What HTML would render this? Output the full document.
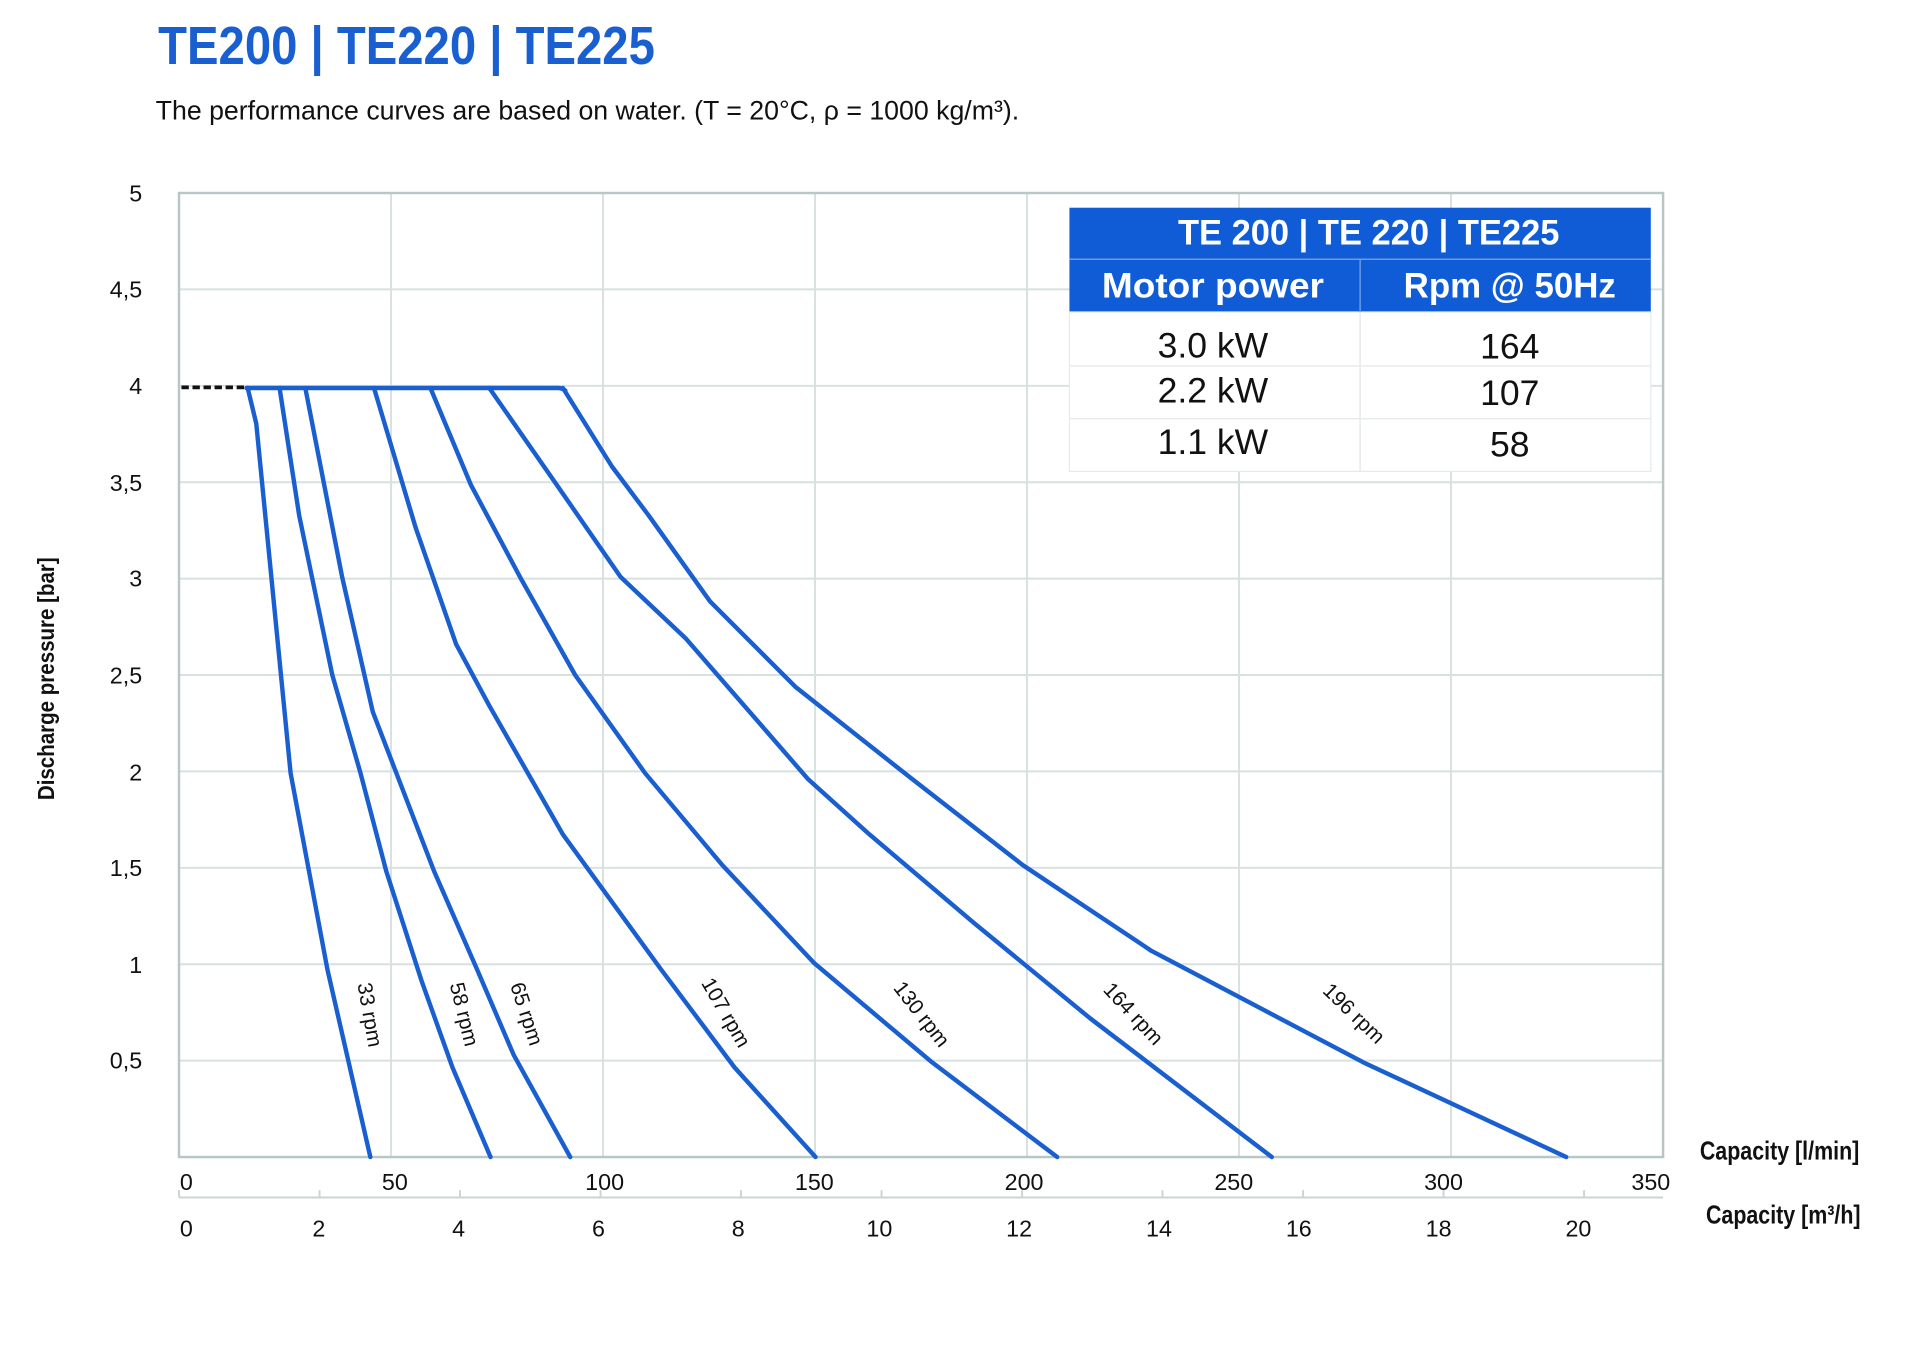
<!DOCTYPE html>
<html><head><meta charset="utf-8"><style>
html,body{margin:0;padding:0;background:#fff;}
svg{display:block;}
text{font-family:"Liberation Sans",sans-serif;}
</style></head><body>
<svg width="1920" height="1349" viewBox="0 0 1920 1349" xmlns="http://www.w3.org/2000/svg">
<g transform="translate(-1.3,0.44) scale(1.2265)">
<!-- title -->
<text x="130" y="52" font-size="44" font-weight="bold" fill="#1a5fd0" textLength="405" lengthAdjust="spacingAndGlyphs">TE200 | TE220 | TE225</text>
<text x="128" y="97" font-size="22" fill="#111" textLength="704" lengthAdjust="spacingAndGlyphs">The performance curves are based on water. (T = 20°C, ρ = 1000 kg/m³).</text>
<!-- gridlines -->
<g stroke="#d8e0e0" stroke-width="1.6">
<line x1="147" y1="235.6" x2="1357" y2="235.6"/><line x1="147" y1="314.2" x2="1357" y2="314.2"/>
<line x1="147" y1="392.8" x2="1357" y2="392.8"/><line x1="147" y1="471.4" x2="1357" y2="471.4"/>
<line x1="147" y1="550" x2="1357" y2="550"/><line x1="147" y1="628.6" x2="1357" y2="628.6"/>
<line x1="147" y1="707.2" x2="1357" y2="707.2"/><line x1="147" y1="785.8" x2="1357" y2="785.8"/>
<line x1="147" y1="864.4" x2="1357" y2="864.4"/>
<line x1="319.9" y1="157" x2="319.9" y2="943"/><line x1="492.7" y1="157" x2="492.7" y2="943"/>
<line x1="665.6" y1="157" x2="665.6" y2="943"/><line x1="838.4" y1="157" x2="838.4" y2="943"/>
<line x1="1011.3" y1="157" x2="1011.3" y2="943"/><line x1="1184.1" y1="157" x2="1184.1" y2="943"/>
</g>
<rect x="147" y="157" width="1210" height="786" fill="none" stroke="#b8c6c6" stroke-width="2"/>
<!-- second axis -->
<line x1="147" y1="976" x2="1357" y2="976" stroke="#ccd4d4" stroke-width="1.6"/>
<g stroke="#ccd4d4" stroke-width="1.6">
<line x1="147" y1="970" x2="147" y2="976"/><line x1="261.6" y1="970" x2="261.6" y2="976"/><line x1="376.1" y1="970" x2="376.1" y2="976"/>
<line x1="490.7" y1="970" x2="490.7" y2="976"/><line x1="605.2" y1="970" x2="605.2" y2="976"/><line x1="719.8" y1="970" x2="719.8" y2="976"/>
<line x1="834.4" y1="970" x2="834.4" y2="976"/><line x1="948.9" y1="970" x2="948.9" y2="976"/><line x1="1063.5" y1="970" x2="1063.5" y2="976"/>
<line x1="1178" y1="970" x2="1178" y2="976"/><line x1="1292.6" y1="970" x2="1292.6" y2="976"/>
</g>
<!-- y tick labels -->
<g font-size="19" fill="#111" text-anchor="end">
<text x="117" y="164">5</text><text x="117" y="242">4,5</text><text x="117" y="321">4</text>
<text x="117" y="400">3,5</text><text x="117" y="478">3</text><text x="117" y="557">2,5</text>
<text x="117" y="636">2</text><text x="117" y="714">1,5</text><text x="117" y="793">1</text><text x="117" y="871">0,5</text>
</g>
<!-- x labels -->
<g font-size="19" fill="#111" text-anchor="middle">
<text x="153" y="970">0</text><text x="323" y="970">50</text><text x="494" y="970">100</text><text x="665" y="970">150</text>
<text x="836" y="970">200</text><text x="1007" y="970">250</text><text x="1178" y="970">300</text><text x="1347" y="970">350</text>
<text x="153" y="1008">0</text><text x="261" y="1008">2</text><text x="375" y="1008">4</text><text x="489" y="1008">6</text>
<text x="603" y="1008">8</text><text x="718" y="1008">10</text><text x="832" y="1008">12</text><text x="946" y="1008">14</text>
<text x="1060" y="1008">16</text><text x="1174" y="1008">18</text><text x="1288" y="1008">20</text>
</g>
<text x="1387" y="945" font-size="21" font-weight="bold" fill="#111" textLength="130" lengthAdjust="spacingAndGlyphs">Capacity [l/min]</text>
<text x="1392" y="997" font-size="21" font-weight="bold" fill="#111" textLength="126" lengthAdjust="spacingAndGlyphs">Capacity [m³/h]</text>
<text transform="translate(45,553) rotate(-90)" text-anchor="middle" font-size="19" font-weight="bold" fill="#111" textLength="198" lengthAdjust="spacingAndGlyphs">Discharge pressure [bar]</text>
<!-- dotted -->
<line x1="149" y1="315.5" x2="200" y2="315.5" stroke="#111" stroke-width="3" stroke-dasharray="6,3"/>
<!-- curves -->
<g fill="none" stroke="#1a5fd0" stroke-width="3.6" stroke-linejoin="round" stroke-linecap="round">
<path d="M202,316 L456,316 Q459,316 462,318"/>
<polyline points="203,316 210,345 238,630 268,790 303,943"/>
<polyline points="229,316 245,420 272,550 295,630 316,710 345,800 370,870 401,943"/>
<polyline points="250,316 280,470 305,580 355,710 390,790 420,860 466,943"/>
<polyline points="306,316 340,430 373,525 400,575 460,680 540,790 600,870 666,943"/>
<polyline points="352,316 385,395 425,470 470,550 527,630 590,705 665,785 760,865 863,943"/>
<polyline points="400,316 455,395 507,470 560,520 660,635 710,680 795,752 890,830 1038,943"/>
<polyline points="460,316 500,380 530,420 580,490 650,560 745,635 835,705 940,775 1113,866 1278,943"/>
</g>
<!-- rpm labels -->
<g font-size="17" fill="#111" text-anchor="middle">
<text transform="translate(297,828) rotate(80)">33 rpm</text>
<text transform="translate(374,828) rotate(76)">58 rpm</text>
<text transform="translate(425,828) rotate(72)">65 rpm</text>
<text transform="translate(588,828) rotate(60)">107 rpm</text>
<text transform="translate(748,830) rotate(52)">130 rpm</text>
<text transform="translate(921,830) rotate(47)">164 rpm</text>
<text transform="translate(1101,830) rotate(44)">196 rpm</text>
</g>
<!-- table -->
<rect x="873" y="169" width="474" height="85" fill="#0f5cd6"/>
<rect x="873" y="254" width="474" height="130" fill="#fff" stroke="#e6eaea" stroke-width="1"/>
<line x1="873" y1="211" x2="1347" y2="211" stroke="#6d9be6" stroke-width="1.2"/>
<line x1="1110" y1="211" x2="1110" y2="254" stroke="#6d9be6" stroke-width="1.2"/>
<line x1="1110" y1="254" x2="1110" y2="384" stroke="#e6eaea" stroke-width="1.2"/>
<line x1="873" y1="298" x2="1347" y2="298" stroke="#e6eaea" stroke-width="1.2"/>
<line x1="873" y1="341" x2="1347" y2="341" stroke="#e6eaea" stroke-width="1.2"/>
<g text-anchor="middle" font-weight="bold" fill="#fff">
<text x="1117" y="199" font-size="29" textLength="311" lengthAdjust="spacingAndGlyphs">TE 200 | TE 220 | TE225</text>
<text x="990" y="242" font-size="29" textLength="181" lengthAdjust="spacingAndGlyphs">Motor power</text>
<text x="1232" y="242" font-size="29" textLength="173" lengthAdjust="spacingAndGlyphs">Rpm @ 50Hz</text>
</g>
<g text-anchor="middle" fill="#111" font-size="29">
<text x="990" y="291">3.0 kW</text><text x="1232" y="292">164</text>
<text x="990" y="328">2.2 kW</text><text x="1232" y="330">107</text>
<text x="990" y="370">1.1 kW</text><text x="1232" y="372">58</text>
</g>
</g>
</svg>
</body></html>
